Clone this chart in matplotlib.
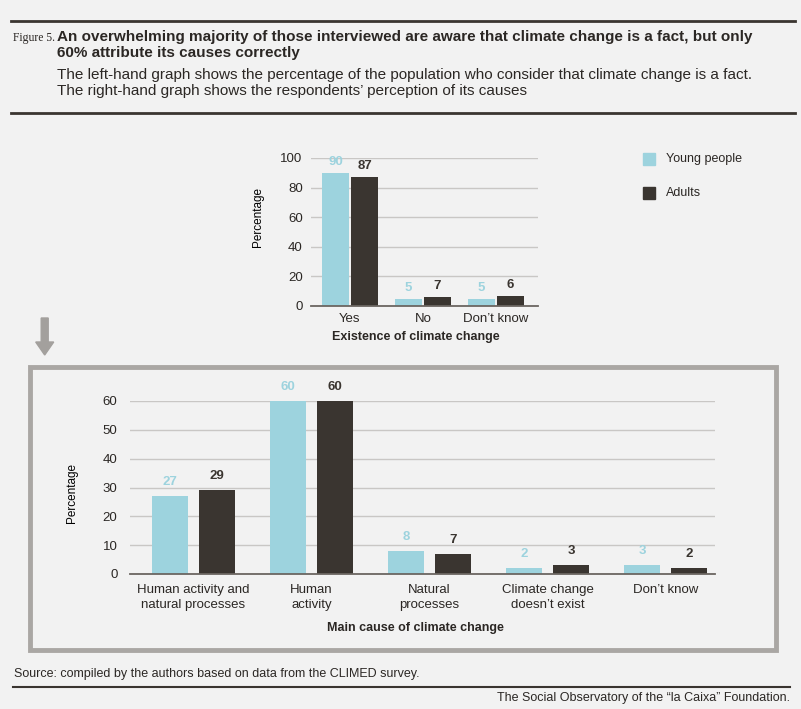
import numpy as np
import matplotlib.pyplot as plt
from matplotlib.patches import Rectangle, FancyArrow

# data
exist_cats = ["Yes", "No", "Don\u2019t know"]
exist_young = [90, 5, 5]
exist_adult = [87, 6, 7]
exist_young_lbl = ["90", "5", "5"]
exist_adult_lbl = ["87", "7", "6"]

cause_cats = ["Human activity and\nnatural processes", "Human\nactivity", "Natural\nprocesses",
              "Climate change\ndoesn\u2019t exist", "Don\u2019t know"]
cause_young = [27, 60, 8, 2, 3]
cause_adult = [29, 60, 7, 3, 2]

series_names = ["Young people", "Adults"]
top_ticks = [0, 20, 40, 60, 80, 100]
bottom_ticks = [0, 10, 20, 30, 40, 50, 60]

BG = "#f2f2f2"
BLUE = "#9dd3de"
DARK = "#3a3530"
GRID = "#c9c7c5"
BOXC = "#aaa7a4"
TXT = "#2b2724"

plt.rcParams['font.family'] = ['Liberation Sans', 'DejaVu Sans']
plt.rcParams['text.color'] = TXT

W, H = 801, 709
fig = plt.figure(figsize=(W / 100, H / 100), dpi=100, facecolor=BG)


def fx(x):
    return x / W


def fy(y):
    return 1 - y / H


def hline(x0, x1, y, color, lw):
    fig.add_artist(plt.Line2D([fx(x0), fx(x1)], [fy(y), fy(y)], color=color, lw=lw,
                              transform=fig.transFigure))


# header
hline(11, 795, 21, DARK, 2)
hline(11, 795, 113, DARK, 2)
fig.text(fx(13), fy(38), "Figure 5.", family='Liberation Serif', fontsize=8.4, va='center')
fig.text(fx(57), fy(37), "An overwhelming majority of those interviewed are aware that climate change is a fact, but only",
         fontsize=11, weight='bold', va='center')
fig.text(fx(57), fy(53), "60% attribute its causes correctly", fontsize=11, weight='bold', va='center')
fig.text(fx(57), fy(75), "The left-hand graph shows the percentage of the population who consider that climate change is a fact.",
         fontsize=11, va='center')
fig.text(fx(57), fy(91), "The right-hand graph shows the respondents\u2019 perception of its causes",
         fontsize=11, va='center')


def style_axes(ax, ticks):
    ax.set_facecolor(BG)
    for s in ["top", "right", "left"]:
        ax.spines[s].set_visible(False)
    ax.spines["bottom"].set_color("#6b6661")
    ax.spines["bottom"].set_linewidth(1.3)
    ax.set_yticks(ticks)
    ax.yaxis.grid(True, color=GRID, lw=1)
    ax.set_axisbelow(True)
    ax.tick_params(length=0, labelsize=9.5, colors=TXT)


# top chart
ax1 = fig.add_axes([fx(311), fy(306), (538 - 311) / W, (306 - 158) / H])
style_axes(ax1, top_ticks)
x = np.arange(len(exist_cats))
off, bw = 0.2, 0.36
ax1.bar(x - off, exist_young, bw, color=BLUE)
ax1.bar(x + off, exist_adult, bw, color=DARK)
for xi, v, l in zip(x, exist_young, exist_young_lbl):
    ax1.annotate(l, (xi - off, v), xytext=(0, 11), textcoords='offset pixels', ha='center', va='center',
                 color=BLUE, fontsize=9.5, weight='bold', annotation_clip=False)
for xi, v, l in zip(x, exist_adult, exist_adult_lbl):
    ax1.annotate(l, (xi + off, v), xytext=(0, 11), textcoords='offset pixels', ha='center', va='center',
                 color=DARK, fontsize=9.5, weight='bold', annotation_clip=False)
ax1.set_xlim(-0.534, 2.575)
ax1.set_ylim(0, 100)
ax1.set_xticks(x)
ax1.set_xticklabels(exist_cats)
ax1.tick_params(axis='x', pad=5)
ax1.tick_params(axis='y', pad=6)
ax1.set_ylabel("Percentage", fontsize=8.5)
ax1.yaxis.set_label_coords((264 - 311) / 227, 0.6)
fig.text(fx(416), fy(337), "Existence of climate change", fontsize=9, weight='bold', ha='center', va='center')

# legend
for i, (name, col) in enumerate(zip(series_names, [BLUE, DARK])):
    yc = 159 + 34 * i
    fig.add_artist(Rectangle((fx(643), fy(yc + 6)), 12 / W, 12 / H, color=col, transform=fig.transFigure))
    fig.text(fx(666), fy(yc), name, fontsize=9, va='center')

# arrow
fig.add_artist(FancyArrow(fx(44.7), fy(318), 0, -(355 - 318) / H, width=7 / W, head_width=18 / W,
                          head_length=13 / H, length_includes_head=True, color="#a3a09d",
                          transform=fig.transFigure))

# box
fig.add_artist(Rectangle((fx(29.5), fy(650)), (776 - 29.5) / W, (650 - 366.5) / H, fill=False,
                         edgecolor=BOXC, lw=3.5, transform=fig.transFigure))

# bottom chart
ax2 = fig.add_axes([fx(130), fy(574), (715 - 130) / W, (574 - 401) / H])
style_axes(ax2, bottom_ticks)
x2 = np.arange(len(cause_cats))
off2, bw2 = 0.199, 0.305
ax2.bar(x2 - off2, cause_young, bw2, color=BLUE)
ax2.bar(x2 + off2, cause_adult, bw2, color=DARK)
for xi, v in zip(x2, cause_young):
    ax2.annotate(str(v), (xi - off2, v), xytext=(0, 14), textcoords='offset pixels', ha='center', va='center',
                 color=BLUE, fontsize=9.5, weight='bold', annotation_clip=False)
for xi, v in zip(x2, cause_adult):
    ax2.annotate(str(v), (xi + off2, v), xytext=(0, 14), textcoords='offset pixels', ha='center', va='center',
                 color=DARK, fontsize=9.5, weight='bold', annotation_clip=False)
ax2.set_xlim(-0.538, 4.42)
ax2.set_ylim(0, 60)
ax2.set_xticks(x2)
ax2.set_xticklabels(cause_cats, linespacing=1.35, va='top')
ax2.tick_params(axis='x', pad=7)
ax2.tick_params(axis='y', pad=9)
ax2.set_ylabel("Percentage", fontsize=8.5)
ax2.yaxis.set_label_coords((78 - 130) / 585, 0.47)
fig.text(fx(415), fy(628), "Main cause of climate change", fontsize=9, weight='bold', ha='center', va='center')

# footer
fig.text(fx(14), fy(674), "Source: compiled by the authors based on data from the CLIMED survey.", fontsize=9, va='center')
hline(13, 790, 687, DARK, 1.5)
fig.text(fx(790), fy(698), "The Social Observatory of the \u201cla Caixa\u201d Foundation.", fontsize=9, ha='right', va='center')

fig.savefig("out.png", dpi=100, facecolor=BG)
